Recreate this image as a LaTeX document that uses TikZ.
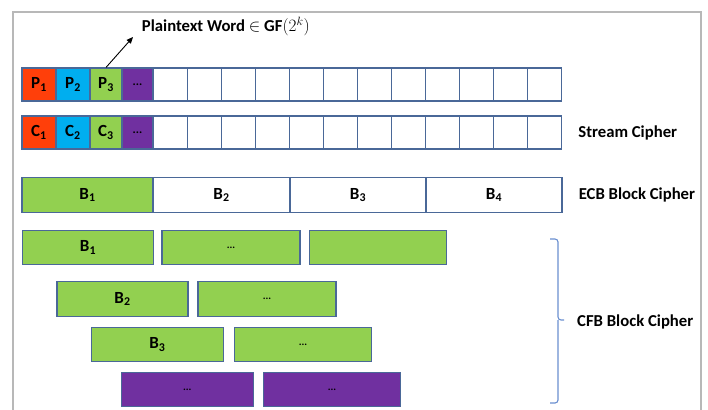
\documentclass[tikz,border=0pt]{standalone}
\usepackage{fontspec}
\setmainfont{Carlito}
\usetikzlibrary{arrows.meta, positioning}
\definecolor{wred}{HTML}{FF3F0A}
\definecolor{wblue}{HTML}{00AEEF}
\definecolor{wgreen}{HTML}{92D050}
\definecolor{wpurple}{HTML}{7030A0}
\definecolor{cellline}{HTML}{4A6898}
\definecolor{bracecol}{HTML}{6A8FD0}
\definecolor{framecol}{HTML}{B8B8B8}

\begin{document}
\begin{tikzpicture}[x=1pt, y=-1pt,
  cell/.style={
    rectangle, draw=cellline, line width=1.1pt, fill=white,
    minimum width=34.06pt, minimum height=33pt, inner sep=0pt,
    font=\fontsize{17}{18}\selectfont\bfseries},
  blk/.style={cell, minimum height=34.5pt},
  dts/.style={font=\fontsize{12}{14}\selectfont\bfseries},
  sdts/.style={font=\fontsize{10.5}{12}\selectfont\bfseries},
  lbl/.style={font=\fontsize{16.7}{19}\selectfont\bfseries, inner sep=0pt},
  arr/.style={-{Triangle[length=6.5pt, width=5.5pt]}, line width=0.9pt, black},
  brc/.style={draw=bracecol, line width=1.1pt, rounded corners=3pt},
  frame/.style={draw=framecol, line width=2pt}
]
\useasboundingbox[fill=white] (0,0) rectangle (708,409);
\draw[frame] (13,420) -- (13,12) -- (701,12) -- (701,420);
% ── Plaintext words ──
\node[cell, fill=wred, minimum width=34pt]  (p1) at (39,84.5)    {P\textsubscript{1}};
\node[cell, fill=wblue, minimum width=34pt] (p2) at (73,84.5)    {P\textsubscript{2}};
\node[cell, fill=wgreen, minimum width=32pt] (p3) at (106,84.5)  {P\textsubscript{3}};
\node[cell, fill=wpurple, minimum width=31pt, dts] (p4) at (137.5,84.5) {...};
\foreach \i in {5,...,16}
  \node[cell] (p\i) at ({153+34.06*(\i-4.5)},84.5) {};
% ── Ciphertext words ──
\node[cell, fill=wred, minimum width=34pt]  (c1) at (39,132.5)   {C\textsubscript{1}};
\node[cell, fill=wblue, minimum width=34pt] (c2) at (73,132.5)   {C\textsubscript{2}};
\node[cell, fill=wgreen, minimum width=32pt] (c3) at (106,132.5) {C\textsubscript{3}};
\node[cell, fill=wpurple, minimum width=31pt, dts] (c4) at (137.5,132.5) {...};
\foreach \i in {5,...,16}
  \node[cell] (c\i) at ({153+34.06*(\i-4.5)},132.5) {};
% ── ECB blocks ──
\node[blk, fill=wgreen, minimum width=131pt] (e1) at (87.5,195) {B\textsubscript{1}};
\node[blk, minimum width=137pt] (e2) at (221.5,195) {B\textsubscript{2}};
\node[blk, minimum width=136pt] (e3) at (358,195)   {B\textsubscript{3}};
\node[blk, minimum width=136pt] (e4) at (494,195)   {B\textsubscript{4}};
% ── CFB blocks ──
\node[blk, fill=wgreen, minimum width=131pt]   (f11) at (88,247.5)    {B\textsubscript{1}};
\node[blk, fill=wgreen, minimum width=138pt, sdts] (f12) at (231,247.5) {...};
\node[blk, fill=wgreen, minimum width=137.5pt] (f13) at (377.8,247.5) {};
\node[blk, fill=wgreen, minimum width=131pt]   (f21) at (122.5,299)   {B\textsubscript{2}};
\node[blk, fill=wgreen, minimum width=138pt, sdts] (f22) at (267,299) {...};
\node[blk, fill=wgreen, minimum width=131.5pt] (f31) at (157.3,344.5) {B\textsubscript{3}};
\node[blk, fill=wgreen, minimum width=137.4pt, sdts] (f32) at (303,344.5) {...};
\node[blk, fill=wpurple, minimum width=132pt, sdts]  (f41) at (187.3,389.5) {...};
\node[blk, fill=wpurple, minimum width=137.7pt, sdts] (f42) at (332,389.5) {...};
% ── Labels ──
\node[lbl, anchor=south west, inner xsep=8.7pt, inner ysep=0.5pt] (pw) at (133,37)
  {Plaintext Word {\mdseries$\in$} GF$(2^{k})$};
\draw[arr] (p3.north) -- (pw.south west);
\node[lbl, right=16pt of c16] (sc) {Stream Cipher};
\node[lbl, right=16pt of e4]  (ecb) {ECB Block Cipher};
% ── CFB brace ──
\coordinate (bt) at (550,239);
\coordinate (bb) at (550,403);
\coordinate (bs) at (558,320);
\coordinate (bm) at (564,320);
\draw[brc] (bt) -| (bs) -- (bm);
\draw[brc] (bb) -| (bs);
\node[lbl, anchor=west] (cfb) at (577,321.5) {CFB Block Cipher};
\end{tikzpicture}
\end{document}
